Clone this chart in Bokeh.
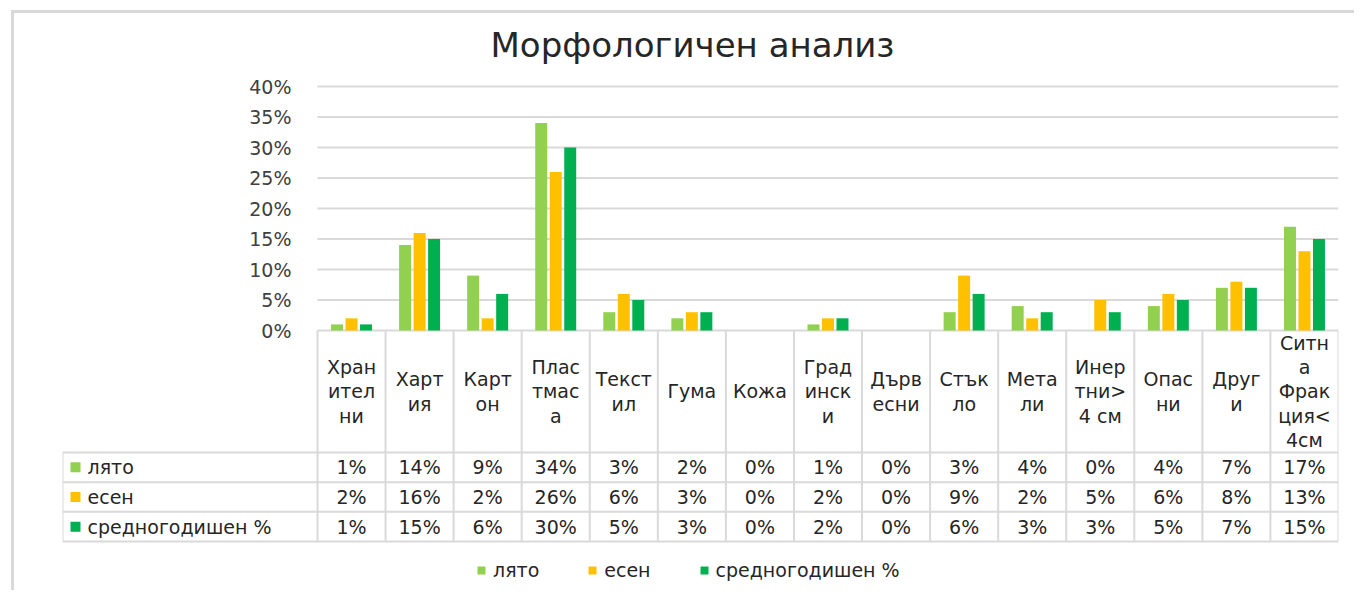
from bokeh.plotting import figure
from bokeh.models import (Range1d, LinearAxis, FixedTicker, PrintfTickFormatter,
                          Legend, LegendItem, ColumnDataSource, InlineStyleSheet)
from bokeh.transform import dodge
from bokeh.core.properties import value
from bokeh.embed import file_html
from bokeh.resources import INLINE

# ---------------- data ----------------
categories = ["Хранителни", "Хартия", "Картон", "Пластмаса", "Текстил", "Гума", "Кожа",
              "Градински", "Дървесни", "Стъкло", "Метали", "Инертни> 4 см", "Опасни",
              "Други", "Ситна Фракция< 4см"]
category_labels = ["Хран\nител\nни", "Харт\nия", "Карт\nон", "Плас\nтмас\nа", "Текст\nил",
                   "Гума", "Кожа", "Град\nинск\nи", "Дърв\nесни", "Стък\nло", "Мета\nли",
                   "Инер\nтни>\n4 см", "Опас\nни", "Друг\nи", "Ситн\nа\nФрак\nция<\n4см"]
series_names = ["лято", "есен", "средногодишен %"]
leto = [1, 14, 9, 34, 3, 2, 0, 1, 0, 3, 4, 0, 4, 7, 17]
esen = [2, 16, 2, 26, 6, 3, 0, 2, 0, 9, 2, 5, 6, 8, 13]
sredno = [1, 15, 6, 30, 5, 3, 0, 2, 0, 6, 3, 3, 5, 7, 15]
y_ticks = [0, 5, 10, 15, 20, 25, 30, 35, 40]
title_text = "Морфологичен анализ"

colors = ["#92D050", "#FFC000", "#00B050"]
FONT = "DejaVu Sans"
GRID = "#d9d9d9"
TXT = "#262626"
FS = "19px"

n = len(categories)
series = [leto, esen, sredno]

# ---------------- geometry (pixels of the frame) ----------------
FRAME_TOP, FRAME_BOTTOM, ZERO_Y = 76, 590, 330
CAT_W = 68.07                 # px per category
HEAD_W = 255 / CAT_W          # row-header column width in category units
PX_PER_PCT = 6.1
FRAME_H = FRAME_BOTTOM - FRAME_TOP
ROW = 29.67                   # px per table row
TABLE_BOTTOM = (FRAME_BOTTOM - 541) / ROW
TABLE_TOP = TABLE_BOTTOM + (541 - ZERO_Y) / ROW

p = figure(width=1354, height=590, output_backend="svg", toolbar_location=None,
           x_range=Range1d(-HEAD_W, n),
           y_range=Range1d(-(FRAME_BOTTOM - ZERO_Y) / PX_PER_PCT, (ZERO_Y - FRAME_TOP) / PX_PER_PCT),
           x_axis_location=None, y_axis_location=None,
           min_border_left=62, min_border_right=16, min_border_top=FRAME_TOP, min_border_bottom=0)
p.extra_y_ranges = {"table": Range1d(0, FRAME_H / ROW)}
p.xgrid.visible = False
p.ygrid.visible = False
p.outline_line_color = None
p.background_fill_color = "white"
p.border_fill_color = "white"

# outer chart border (only its top and left edges are inside the crop)
p.stylesheets = [InlineStyleSheet(css="""
:host { position: relative; }
:host::before {
  content: ""; position: absolute; left: 11px; top: 10px; right: 0; bottom: 0;
  border-top: 3px solid #d9d9d9; border-left: 3px solid #d9d9d9;
  pointer-events: none; z-index: 10;
}
""")]

p.title.text = title_text
p.title.align = "left"
p.title.offset = 428
p.title.text_font = FONT
p.title.text_font_size = "34px"
p.title.text_font_style = "normal"
p.title.text_color = "#262626"
p.title.standoff = 23

# y axis at category start
yaxis = LinearAxis(fixed_location=0, ticker=FixedTicker(ticks=y_ticks),
                   formatter=PrintfTickFormatter(format="%d%%"))
yaxis.axis_line_color = None
yaxis.major_tick_line_color = None
yaxis.minor_tick_line_color = None
yaxis.major_label_text_font = FONT
yaxis.major_label_text_font_size = FS
yaxis.major_label_text_color = "#404040"
yaxis.major_label_standoff = 20
p.add_layout(yaxis, "left")

# gridlines in the plot area
p.segment(x0=0, x1=n, y0=y_ticks, y1=y_ticks, line_color=GRID, line_width=2)

# bars
xc = [i + 0.5 for i in range(n)]
src = ColumnDataSource(dict(x=xc, cat=categories, leto=leto, esen=esen, sredno=sredno))
offs = [-0.213, 0.0, 0.213]
renderers = []
for key, off, col in zip(["leto", "esen", "sredno"], offs, colors):
    r = p.vbar(x=dodge("x", off), top=key, bottom=0, width=0.176, source=src,
               fill_color=col, line_color=None)
    renderers.append(r)

# ---------------- data table ----------------
T = "table"
rb = TABLE_BOTTOM
hl = [rb, rb + 1, rb + 2, rb + 3]
p.segment(x0=-HEAD_W, x1=n, y0=hl, y1=hl, line_color=GRID, line_width=2, y_range_name=T)
vx = list(range(n + 1))
p.segment(x0=vx, x1=vx, y0=[rb] * len(vx), y1=[TABLE_TOP] * len(vx), line_color=GRID,
          line_width=2, y_range_name=T)
p.segment(x0=[-HEAD_W], x1=[-HEAD_W], y0=[rb], y1=[rb + 3], line_color=GRID, line_width=2,
          y_range_name=T)

hy = (rb + 3 + TABLE_TOP) / 2
p.text(x=xc, y=[hy] * n, text=category_labels, text_align="center", text_baseline="middle",
       text_font=value(FONT), text_font_size=FS, text_color=TXT, text_line_height=1.1,
       y_range_name=T)

row_y = [rb + 2.5, rb + 1.5, rb + 0.5]
for vals, ry in zip(series, row_y):
    p.text(x=xc, y=[ry] * n, text=[f"{v}%" for v in vals], text_align="center",
           text_baseline="middle", text_font=value(FONT), text_font_size=FS,
           text_color=TXT, y_range_name=T)

sq_x = -HEAD_W + 13 / CAT_W
lab_x = -HEAD_W + 25 / CAT_W
p.rect(x=[sq_x] * 3, y=row_y, width=10, height=10, width_units="screen",
       height_units="screen", fill_color=colors, line_color=None, y_range_name=T)
p.text(x=[lab_x] * 3, y=row_y, text=series_names, text_align="left", text_baseline="middle",
       text_font=value(FONT), text_font_size=FS, text_color=TXT, y_range_name=T)

# ---------------- legend (inside frame, below the table) ----------------
legend = Legend(items=[LegendItem(label=nm, renderers=[r]) for nm, r in zip(series_names, renderers)],
                orientation="horizontal", location=(414, 9))
legend.border_line_color = None
legend.background_fill_alpha = 0
legend.glyph_width = 10
legend.glyph_height = 10
legend.label_text_font = FONT
legend.label_text_font_size = FS
legend.label_text_color = TXT
legend.label_standoff = 7
legend.spacing = 48
legend.padding = 4
legend.margin = 0
p.add_layout(legend, "center")

open("out.html", "w").write(file_html(p, INLINE))
